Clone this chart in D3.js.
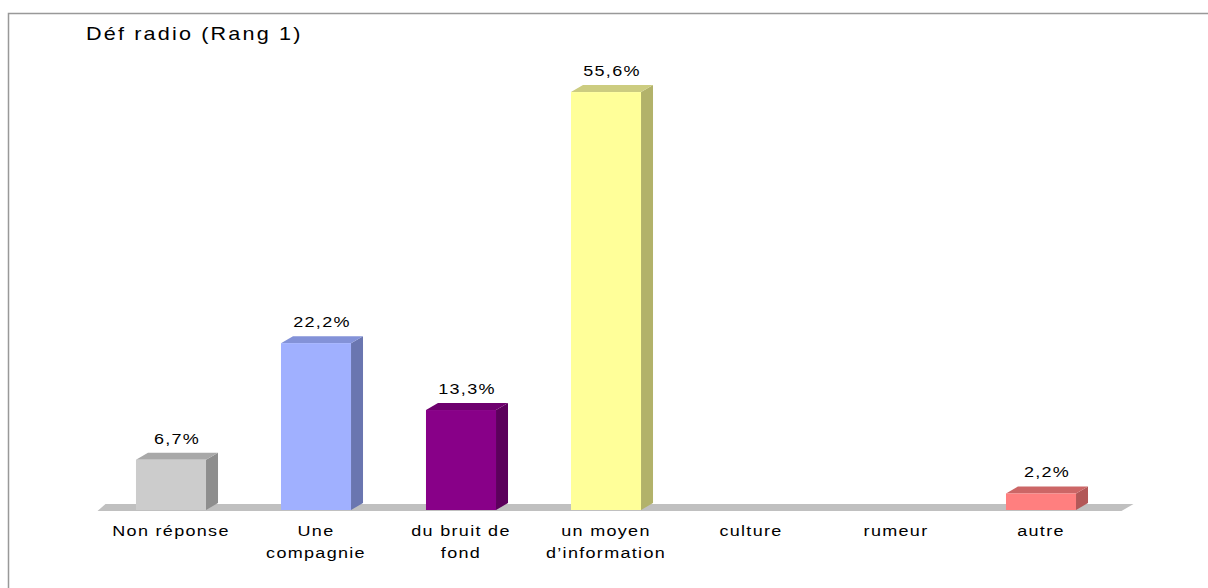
<!DOCTYPE html>
<html>
<head>
<meta charset="utf-8">
<script src="https://cdn.jsdelivr.net/npm/d3@7"></script>
<style>
  html, body { margin: 0; padding: 0; background: #fff; }
  svg { display: block; font-family: "Liberation Sans", Arial, sans-serif; }
</style>
</head>
<body>
<svg id="chart" width="1208" height="588"></svg>
<script>
// Categories (each entry split into its display lines)
const categories = ["Non réponse", "Une compagnie", "du bruit de fond", "un moyen d’information", "culture", "rumeur", "autre"];
const categoryLines = [["Non réponse"], ["Une", "compagnie"], ["du bruit de", "fond"], ["un moyen", "d’information"], ["culture"], ["rumeur"], ["autre"]];
// Share of answers, in percent
const values = [6.7, 22.2, 13.3, 55.6, 0, 0, 2.2];
const valueLabels = ["6,7%", "22,2%", "13,3%", "55,6%", "", "", "2,2%"];
// Face colours per bar: front, side, top
const frontColors = ["#cccccc", "#a0b0ff", "#880088", "#ffff99", "#cccccc", "#cccccc", "#ff7f7f"];
const sideColors  = ["#8e8e8e", "#6a76b0", "#5c005c", "#b2b26a", "#8e8e8e", "#8e8e8e", "#b25858"];
const topColors   = ["#a8a8a8", "#8392d8", "#6e006e", "#cccc80", "#a8a8a8", "#a8a8a8", "#cc6666"];

// Text is drawn slightly widened and spaced out
const stretch = 1.2;

const svg = d3.select("#chart");

// Outer frame
svg.append("rect")
  .attr("x", 8.5).attr("y", 13.5)
  .attr("width", 1300).attr("height", 700)
  .attr("fill", "none").attr("stroke", "#999999").attr("stroke-width", 1.5);

// Title
svg.append("text")
  .attr("transform", `translate(86,40) scale(${stretch},1)`)
  .attr("font-size", 18).attr("letter-spacing", 1.8).attr("fill", "#000")
  .text("Déf radio (Rang 1)");

const x = d3.scaleBand().domain(categories).range([98.5, 1113.5]).paddingInner(0.517).paddingOuter(0.2585);
const y = d3.scaleLinear().domain([0, 60]).range([510, 59]);
const dx = 12, dy = 7;

// Floor
const floorY = y(0);
svg.append("path")
  .attr("d", `M${x.range()[0] - 1},${floorY + 1} L${x.range()[0] + dx - 5},${floorY - dy + 1} L${x.range()[1] + dx + 8},${floorY - dy + 1} L${x.range()[1] + 8},${floorY + 1} Z`)
  .attr("fill", "#c0c0c0");

// Bars: side, top, front faces
const bars = svg.selectAll("g.bar")
  .data(categories.map((c, i) => ({ c, i, v: values[i] })).filter(d => d.v > 0))
  .join("g").attr("class", "bar");

bars.append("path")
  .attr("d", d => {
    const x1 = x(d.c) + x.bandwidth(), yt = y(d.v), yb = y(0);
    return `M${x1},${yb} L${x1},${yt} L${x1 + dx},${yt - dy} L${x1 + dx},${yb - dy} Z`;
  })
  .attr("fill", d => sideColors[d.i]);

bars.append("path")
  .attr("d", d => {
    const x0 = x(d.c), x1 = x0 + x.bandwidth(), yt = y(d.v);
    return `M${x0},${yt} L${x0 + dx},${yt - dy} L${x1 + dx},${yt - dy} L${x1},${yt} Z`;
  })
  .attr("fill", d => topColors[d.i]);

bars.append("rect")
  .attr("x", d => x(d.c))
  .attr("y", d => y(d.v))
  .attr("width", x.bandwidth())
  .attr("height", d => y(0) - y(d.v))
  .attr("fill", d => frontColors[d.i]);

// Value labels
bars.append("text")
  .attr("transform", d => `translate(${x(d.c) + x.bandwidth() / 2 + dx / 2},${y(d.v) - dy - 9}) scale(${stretch},1)`)
  .attr("text-anchor", "middle")
  .attr("font-size", 15).attr("letter-spacing", 1.1).attr("fill", "#000")
  .text(d => valueLabels[d.i]);

// Category labels
const catG = svg.selectAll("text.cat")
  .data(categories)
  .join("text").attr("class", "cat")
  .attr("transform", d => `translate(${x(d) + x.bandwidth() / 2},536) scale(${stretch},1)`)
  .attr("text-anchor", "middle")
  .attr("font-size", 15).attr("letter-spacing", 1.1).attr("fill", "#000");

catG.selectAll("tspan")
  .data((d, i) => categoryLines[i])
  .join("tspan")
  .attr("x", 0)
  .attr("dy", (d, j) => j === 0 ? 0 : 22)
  .text(d => d);
</script>
</body>
</html>
